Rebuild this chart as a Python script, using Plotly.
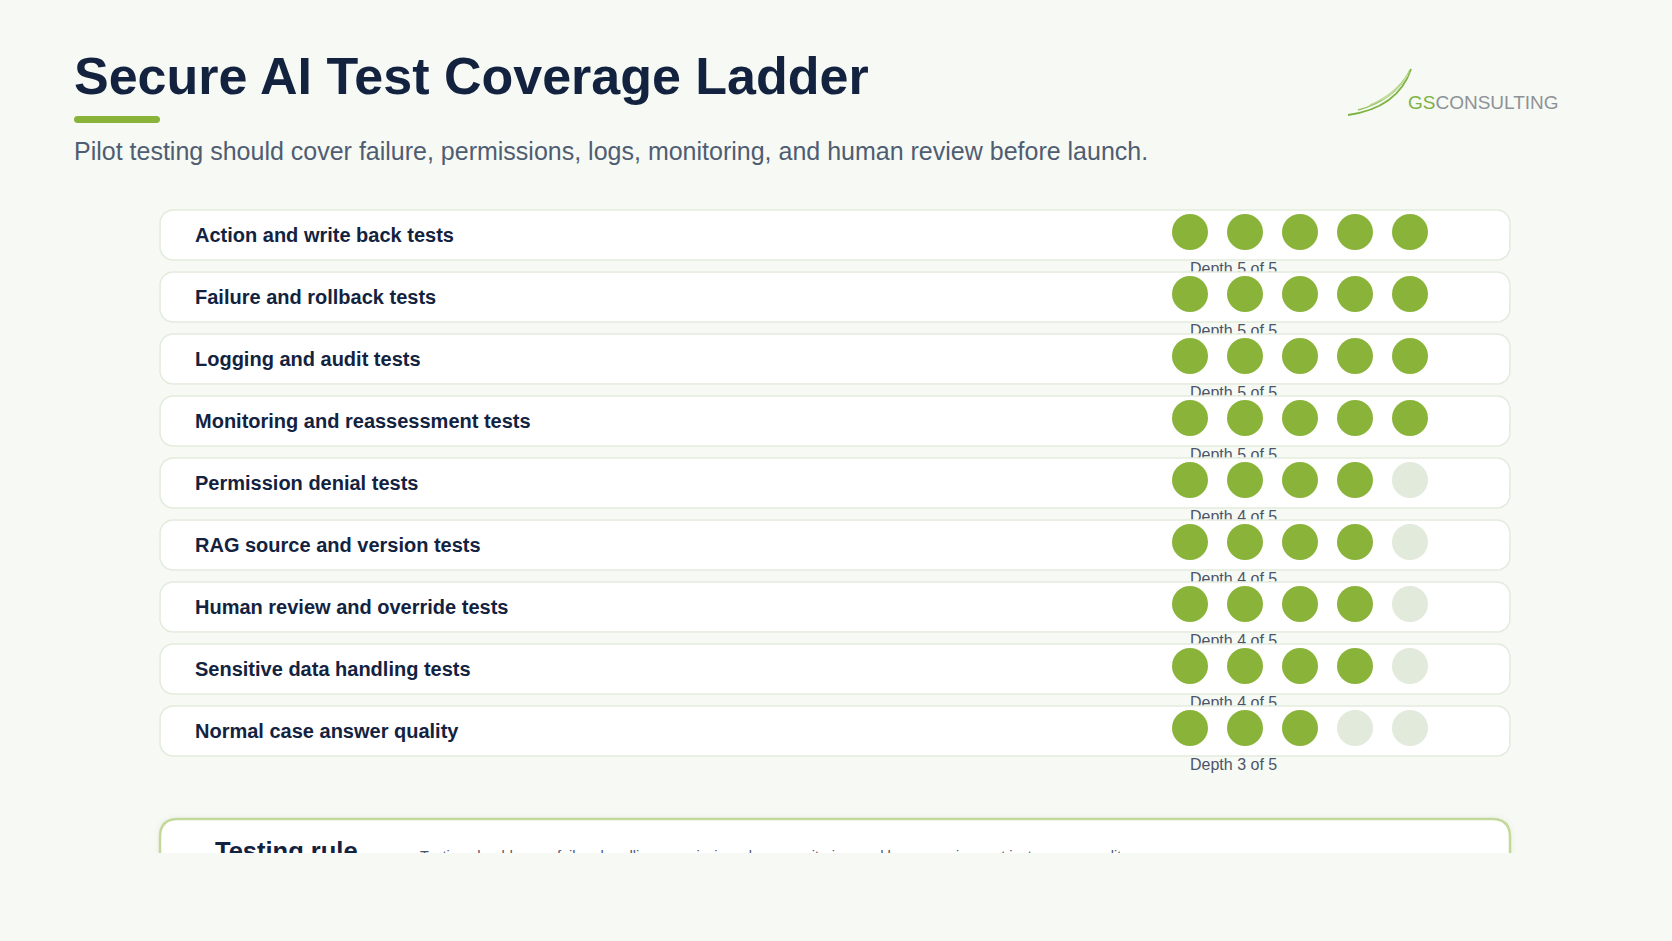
import numpy as np
import plotly.graph_objects as go

# ---------------- data ----------------
categories = [
    "Action and write back tests",
    "Failure and rollback tests",
    "Logging and audit tests",
    "Monitoring and reassessment tests",
    "Permission denial tests",
    "RAG source and version tests",
    "Human review and override tests",
    "Sensitive data handling tests",
    "Normal case answer quality",
]
depth = [5, 5, 5, 5, 4, 4, 4, 4, 3]
max_depth = 5

title = "Secure AI Test Coverage Ladder"
subtitle = "Pilot testing should cover failure, permissions, logs, monitoring, and human review before launch."
rule_title = "Testing rule"
rule_text = "Testing should prove failure handling, permissions, logs, monitoring, and human review, not just answer quality."

# ---------------- style ----------------
W, H = 1672, 941
BG = "#f7f9f4"
NAVY = "#13233f"
SLATE = "#4f5d72"
GREEN = "#8ab33a"
EMPTY = "#e2eadb"
CARD_LINE = "#e3ebdd"
FONT = "Liberation Sans, Arial, Helvetica, sans-serif"

CLIP_Y = 853          # page content is cut here
DOT_X0, DOT_DX = 1190, 55
ROW_Y0, ROW_DY = 235, 62


def xd(px):
    return 1 + (px - DOT_X0) / DOT_DX


def yd(py):
    return (py - ROW_Y0) / ROW_DY


def px_paper(px, py):
    return px / W, 1 - py / H


def rrect_pts(x0, y0, x1, y1, r, n=10):
    pts = []
    corners = [(x1 - r, y0 + r, -90, 0), (x1 - r, y1 - r, 0, 90),
               (x0 + r, y1 - r, 90, 180), (x0 + r, y0 + r, 180, 270)]
    for cx, cy, a0, a1 in corners:
        for a in np.linspace(a0, a1, n):
            t = np.radians(a)
            pts.append((cx + r * np.cos(t), cy + r * np.sin(t)))
    pts.append(pts[0])
    return pts


def rrect_path(x0, y0, x1, y1, r, conv):
    def P(x, y):
        a, b = conv(x, y)
        return f"{a:.6f},{b:.6f}"
    return (f"M{P(x0 + r, y0)} L{P(x1 - r, y0)} Q{P(x1, y0)} {P(x1, y0 + r)} "
            f"L{P(x1, y1 - r)} Q{P(x1, y1)} {P(x1 - r, y1)} L{P(x0 + r, y1)} "
            f"Q{P(x0, y1)} {P(x0, y1 - r)} L{P(x0, y0 + r)} Q{P(x0, y0)} {P(x0 + r, y0)} Z")


def data_conv(x, y):
    return xd(x), yd(y)


fig = go.Figure()

n = len(categories)
idx = np.arange(n)
dot_x = np.arange(1, max_depth + 1)

for i in range(n):
    cy = ROW_Y0 + ROW_DY * i
    pts = rrect_pts(160, cy - 25, 1510, cy + 25, 13)
    fig.add_trace(go.Scatter(
        x=[xd(p[0]) for p in pts], y=[yd(p[1]) for p in pts],
        mode="lines", fill="toself", fillcolor="white",
        line=dict(color=CARD_LINE, width=1.5), hoverinfo="skip", showlegend=False))
    fig.add_trace(go.Scatter(
        x=dot_x, y=[i - 3 / ROW_DY] * max_depth, mode="markers",
        marker=dict(size=36, color=[GREEN if k <= depth[i] else EMPTY for k in dot_x],
                    line=dict(width=0)),
        hoverinfo="skip", showlegend=False))
    fig.add_trace(go.Scatter(
        x=[1], y=[i + 35 / ROW_DY], mode="text",
        text=[f"Depth {depth[i]} of {max_depth}"], textposition="middle right",
        textfont=dict(family=FONT, size=16, color="#4b5568"),
        hoverinfo="skip", showlegend=False))

# row labels
fig.add_trace(go.Scatter(
    x=[xd(195)] * n, y=idx + 0.03, mode="text", text=categories,
    textposition="middle right",
    textfont=dict(family=FONT, size=20, color=NAVY, weight="bold"),
    hoverinfo="skip", showlegend=False))

# bottom rule box text (clipped at page edge)
fig.add_trace(go.Scatter(
    x=[xd(215)], y=[yd(853.6)], mode="text", text=[rule_title],
    textposition="middle right", cliponaxis=True,
    textfont=dict(family=FONT, size=25.5, color=NAVY, weight="bold"),
    hoverinfo="skip", showlegend=False))
fig.add_trace(go.Scatter(
    x=[xd(420)], y=[yd(857.5)], mode="text", text=[rule_text],
    textposition="middle right", cliponaxis=True,
    textfont=dict(family=FONT, size=14.5, color="#4b5568"),
    hoverinfo="skip", showlegend=False))

shapes = []
# bottom box shadow + box
for k, a in [(6, 0.012), (3, 0.02)]:
    shapes.append(dict(type="path", xref="x", yref="y", layer="below",
                       path=rrect_path(160 - k, 819 - k, 1510 + k, 1000, 18 + k, data_conv),
                       fillcolor=f"rgba(60,80,40,{a})", line=dict(width=0)))
shapes.append(dict(type="path", xref="x", yref="y", layer="below",
                   path=rrect_path(160, 819, 1510, 1000, 18, data_conv),
                   fillcolor="white", line=dict(color="#c3d89b", width=2.5)))

# title accent bar
shapes.append(dict(type="path", xref="paper", yref="paper",
                   path=rrect_path(74, 116, 160, 123, 3.5, px_paper),
                   fillcolor=GREEN, line=dict(width=0)))

# logo swoosh
def ppath(pts):
    s = ""
    for cmd, xy in pts:
        segs = []
        for j in range(0, len(xy), 2):
            a, b = px_paper(xy[j], xy[j + 1])
            segs.append(f"{a:.6f},{b:.6f}")
        s += cmd + " ".join(segs) + " "
    return s

swooshes = [
    ([("M", [1348, 115]), ("Q", [1398, 108, 1411, 69])], "#7cb342", 1.8),
    ([("M", [1358, 110]), ("Q", [1396, 100, 1410, 70])], "#98c561", 1.4),
    ([("M", [1370, 105]), ("Q", [1396, 94, 1409, 72])], "#b6d68c", 1.2),
    ([("M", [1382, 100]), ("Q", [1399, 90, 1408, 75])], "#cfe3b1", 1.0),
]
for p, c, w in swooshes:
    shapes.append(dict(type="path", xref="paper", yref="paper", path=ppath(p),
                       line=dict(color=c, width=w)))

annotations = [
    dict(text=f"<b>{title}</b>", x=72 / W, y=1 - 76 / H, xref="paper", yref="paper",
         xanchor="left", yanchor="middle", showarrow=False,
         font=dict(family=FONT, size=52, color=NAVY)),
    dict(text=subtitle, x=72 / W, y=1 - 151 / H, xref="paper", yref="paper",
         xanchor="left", yanchor="middle", showarrow=False,
         font=dict(family=FONT, size=25, color=SLATE)),
    dict(text='<span style="color:#7cb342">GS</span><span style="color:#8d9297">CONSULTING</span>',
         x=1406 / W, y=1 - 103 / H, xref="paper", yref="paper",
         xanchor="left", yanchor="middle", showarrow=False,
         font=dict(family=FONT, size=19, color="#8d9297")),
]

fig.update_layout(
    width=W, height=H, autosize=False,
    margin=dict(l=0, r=0, t=0, b=0, pad=0),
    paper_bgcolor=BG, plot_bgcolor=BG,
    showlegend=False, hovermode=False,
    shapes=shapes, annotations=annotations,
    xaxis=dict(range=[xd(0), xd(W)], domain=[0, 1], visible=False, fixedrange=True),
    yaxis=dict(range=[yd(CLIP_Y), yd(0)], domain=[(H - CLIP_Y) / H, 1],
               visible=False, fixedrange=True),
)

fig.write_html("out.html", config={"displayModeBar": False})
